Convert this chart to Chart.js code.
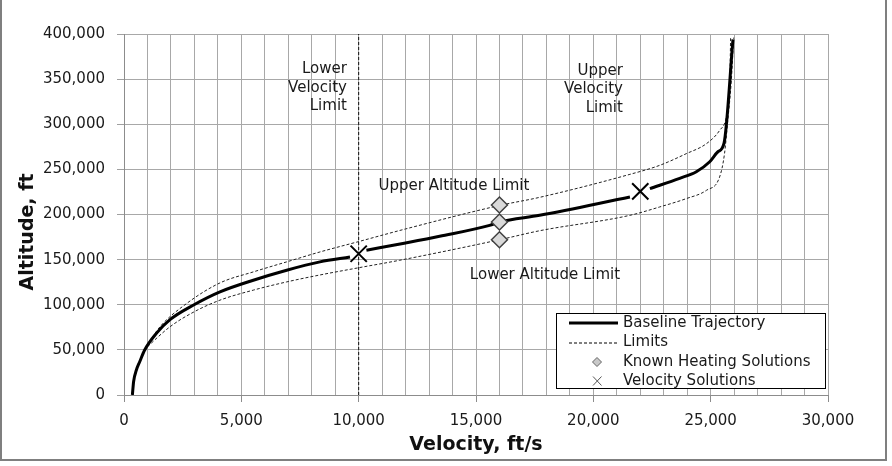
<!DOCTYPE html>
<html><head><meta charset="utf-8">
<script src="https://cdn.jsdelivr.net/npm/chart.js@4.4.0/dist/chart.umd.min.js"></script>
<style>html,body{margin:0;padding:0;background:#fff;} canvas{display:block}</style>
</head><body>
<canvas id="c" width="892" height="466"></canvas>
<script>
// ---- data ----
const baselineVelocity = [357, 410, 528, 669, 882, 1380, 1960, 2983, 4090, 5510, 6932, 8350, 9630, 10000, 10330, 12000, 13450, 15580, 16000, 17710, 21560, 22000, 22410, 23680, 24390, 24960, 25310, 25570, 25950];
const baselineAltitude = [0, 15000, 27700, 36900, 49900, 68300, 83500, 100000, 114300, 127200, 138300, 147500, 152800, null, 160400, 168500, 175900, 188000, 191700, 199100, 219400, null, 228700, 240100, 247400, 258500, 269500, 279000, 394000];

const upperVelocity = [850, 1534, 2670, 4090, 5510, 6932, 8350, 10000, 12000, 16000, 17710, 21560, 22820, 23960, 24820, 25380, 25670, 25810, 25850];
const upperAltitude = [50000, 75600, 101400, 124200, 136400, 147500, 158500, 170000, 184000, 210000, 219000, 244500, 254400, 267400, 278500, 293100, 308000, 341000, 396000];

const lowerVelocity = [850, 1960, 2983, 4090, 5510, 6932, 8350, 10000, 11750, 16000, 17710, 21560, 22820, 23960, 24820, 25380, 25590, 25730, 25880, 25980];
const lowerAltitude = [50000, 75600, 92100, 105100, 116200, 125300, 133000, 141000, 149300, 172000, 182000, 199100, 208300, 217600, 226800, 241500, 267400, 304200, 348500, 396000];

const velocityLimitVelocity = [10000, 10000];
const velocityLimitAltitude = [0, 400000];

const heatingVelocity = [16000, 16000, 16000];
const heatingAltitude = [210500, 191700, 172000];

const solutionVelocity = [10000, 22000];
const solutionAltitude = [156500, 225700];

const xTickLabels = [0, 5000, 10000, 15000, 20000, 25000, 30000];
const yTickLabels = [0, 50000, 100000, 150000, 200000, 250000, 300000, 350000, 400000];

const legendLabels = ['Baseline Trajectory', 'Limits', 'Known Heating Solutions', 'Velocity Solutions'];
const annotationTexts = [
  {lines: ['Lower', 'Velocity', 'Limit'], v: 9500, alt: 361000, align: 'right'},
  {lines: ['Upper', 'Velocity', 'Limit'], v: 21260, alt: 359000, align: 'right'},
  {lines: ['Upper Altitude Limit'], v: 14060, alt: 231900, align: 'center'},
  {lines: ['Lower Altitude Limit'], v: 17940, alt: 133000, align: 'center'}
];

const pts = (xs, ys) => xs.map((v, i) => ({x: v, y: ys[i]}));
const FONT = '"DejaVu Sans", Verdana, sans-serif';
Chart.defaults.font.family = FONT;

const decor = {
  id: 'decor',
  afterDraw(chart) {
    const {ctx, scales: {x, y}} = chart;
    ctx.save();
    // annotations
    ctx.font = '15px ' + FONT;
    ctx.fillStyle = '#1a1a1a';
    ctx.textBaseline = 'middle';
    for (const a of annotationTexts) {
      ctx.textAlign = a.align;
      const px = x.getPixelForValue(a.v), py = y.getPixelForValue(a.alt);
      a.lines.forEach((t, i) => ctx.fillText(t, px, py + i * 18.5));
    }
    // y axis title
    ctx.save();
    ctx.translate(28, 232);
    ctx.rotate(-Math.PI / 2);
    ctx.font = 'bold 19px ' + FONT;
    ctx.fillStyle = '#111';
    ctx.textAlign = 'center';
    ctx.fillText('Altitude, ft', 0, 0);
    ctx.restore();
    // legend
    const L = 556.5, T = 313.5, W = 269, H = 75;
    ctx.fillStyle = '#fff';
    ctx.fillRect(L, T, W, H);
    ctx.strokeStyle = '#000';
    ctx.lineWidth = 1;
    ctx.strokeRect(L, T, W, H);
    const rows = [323, 342.5, 362, 381];
    // baseline sample
    ctx.beginPath(); ctx.lineWidth = 3; ctx.strokeStyle = '#000';
    ctx.moveTo(569, rows[0]); ctx.lineTo(618, rows[0]); ctx.stroke();
    // limits sample
    ctx.beginPath(); ctx.lineWidth = 1; ctx.setLineDash([3, 2]);
    ctx.moveTo(569, rows[1] + 0.5); ctx.lineTo(618, rows[1] + 0.5); ctx.stroke();
    ctx.setLineDash([]);
    // diamond sample
    ctx.beginPath();
    ctx.moveTo(597 - 4.5, rows[2]); ctx.lineTo(597, rows[2] - 4.5);
    ctx.lineTo(597 + 4.5, rows[2]); ctx.lineTo(597, rows[2] + 4.5); ctx.closePath();
    ctx.fillStyle = '#c8c8c8'; ctx.fill(); ctx.strokeStyle = '#666'; ctx.stroke();
    // cross sample
    ctx.beginPath(); ctx.strokeStyle = '#555';
    ctx.moveTo(593, rows[3] - 4.5); ctx.lineTo(601.5, rows[3] + 4.5);
    ctx.moveTo(601.5, rows[3] - 4.5); ctx.lineTo(593, rows[3] + 4.5); ctx.stroke();
    ctx.fillStyle = '#1a1a1a';
    ctx.font = '15px ' + FONT;
    ctx.textAlign = 'left';
    legendLabels.forEach((t, i) => ctx.fillText(t, 623, rows[i]));
    // outer frame
    ctx.fillStyle = '#7f7f7f';
    ctx.fillRect(0, 0, 2, 461);
    ctx.fillRect(885, 0, 2, 461);
    ctx.fillRect(0, 459, 887, 2);
    ctx.restore();
  }
};

new Chart(document.getElementById('c'), {
  type: 'scatter',
  data: {
    datasets: [
      {label: 'Velocity Solutions', data: pts(solutionVelocity, solutionAltitude), showLine: false,
       pointStyle: 'crossRot', pointRadius: 11.5, borderColor: '#000', borderWidth: 2, backgroundColor: '#000'},
      {label: 'Known Heating Solutions', data: pts(heatingVelocity, heatingAltitude), showLine: false,
       pointStyle: 'rectRot', pointRadius: 8, backgroundColor: '#d9d9d9', borderColor: '#404040', borderWidth: 1.5},
      {label: 'Baseline Trajectory', data: pts(baselineVelocity, baselineAltitude), showLine: true, spanGaps: false,
       borderColor: '#000', borderWidth: 3, pointRadius: 0, cubicInterpolationMode: 'monotone'},
      {label: 'Limits', data: pts(upperVelocity, upperAltitude), showLine: true,
       borderColor: '#222', borderWidth: 1, borderDash: [3, 2], pointRadius: 0, cubicInterpolationMode: 'monotone'},
      {label: 'Limits (lower)', data: pts(lowerVelocity, lowerAltitude), showLine: true,
       borderColor: '#222', borderWidth: 1, borderDash: [3, 2], pointRadius: 0, cubicInterpolationMode: 'monotone'},
      {label: 'Lower Velocity Limit', data: pts(velocityLimitVelocity, velocityLimitAltitude), showLine: true,
       borderColor: '#111', borderWidth: 1, borderDash: [3, 2], pointRadius: 0}
    ]
  },
  options: {
    responsive: false,
    animation: false,
    devicePixelRatio: 1,
    layout: {padding: {top: 34, right: 64, bottom: 0, left: 0}},
    plugins: {legend: {display: false}, tooltip: {enabled: false}},
    scales: {
      x: {
        type: 'linear', position: 'bottom', min: 0, max: 30000,
        afterFit: s => { s.height = 71; },
        ticks: {stepSize: 1000, autoSkip: false, maxRotation: 0, padding: 10,
          color: '#1a1a1a', font: {size: 15},
          callback: v => xTickLabels.includes(v) ? v.toLocaleString('en-US') : ''},
        grid: {color: '#a8a8a8', lineWidth: 1, tickLength: 7,
          tickColor: c => (c.tick && xTickLabels.includes(c.tick.value)) ? '#8c8c8c' : 'rgba(0,0,0,0)'},
        border: {color: '#8c8c8c', width: 1},
        title: {display: true, text: 'Velocity, ft/s', color: '#111',
          font: {size: 19, weight: 'bold'}, padding: {top: 0, bottom: 10}}
      },
      y: {
        type: 'linear', min: 0, max: 400000,
        afterFit: s => { s.width = 124; },
        ticks: {stepSize: 50000, padding: 12, color: '#1a1a1a', font: {size: 15},
          callback: v => yTickLabels.includes(v) ? v.toLocaleString('en-US') : ''},
        grid: {color: '#a8a8a8', lineWidth: 1, tickLength: 7, tickColor: '#a0a0a0'},
        border: {color: '#8c8c8c', width: 1},
        title: {display: false}
      }
    }
  },
  plugins: [decor]
});
</script>
</body></html>
